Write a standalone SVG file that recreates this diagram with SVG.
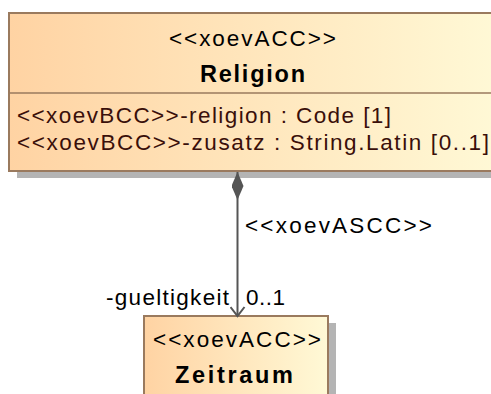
<svg xmlns="http://www.w3.org/2000/svg" width="491" height="394" viewBox="0 0 491 394">
  <defs>
    <linearGradient id="classFill" x1="0" y1="0" x2="1" y2="0">
      <stop offset="0" stop-color="#FFD3A3"/>
      <stop offset="1" stop-color="#FFF9D6"/>
    </linearGradient>
    <!-- filled diamond for the composite end -->
    <marker id="composite" viewBox="0 0 28 12" refX="0" refY="6" markerWidth="28" markerHeight="12" markerUnits="userSpaceOnUse" orient="auto">
      <path d="M0 6 L14 0 L28 6 L14 12 Z" fill="#555555"/>
    </marker>
    <!-- open navigable arrowhead -->
    <marker id="openArrow" viewBox="0 0 12 16" refX="10" refY="8" markerWidth="12" markerHeight="16" markerUnits="userSpaceOnUse" orient="auto">
      <path d="M1 1 L10 8 L1 15" fill="none" stroke="#555555" stroke-width="2"/>
    </marker>
  </defs>
  <style>
    .box { fill: url(#classFill); stroke: #9A7A5E; stroke-width: 2; }
    .shadow { fill: #B4B4B4; }
    .sep { stroke: #9A7A5E; stroke-width: 1.5; }
    .txt { font-family: "Liberation Sans", Arial, sans-serif; font-size: 22.5px; fill: #000000; }
    .attr { font-family: "Liberation Sans", Arial, sans-serif; font-size: 22.5px; fill: #3A0F0A; }
    .bold { font-weight: bold; font-size: 23.5px; }
    .edge { stroke: #555555; stroke-width: 2; fill: none; }
  </style>

  <g id="Religion">
    <rect class="shadow" x="17" y="171" width="480" height="7"/>
    <rect class="box" x="9" y="13" width="490" height="158"/>
    <line class="sep" x1="9" y1="93" x2="499" y2="93"/>
    <text class="txt" x="169" y="46" textLength="167" lengthAdjust="spacing">&lt;&lt;xoevACC&gt;&gt;</text>
    <text class="txt bold" x="200" y="82" textLength="105" lengthAdjust="spacing">Religion</text>
    <text class="attr" x="17" y="123" textLength="374" lengthAdjust="spacing">&lt;&lt;xoevBCC&gt;&gt;-religion : Code [1]</text>
    <text class="attr" x="17" y="150" textLength="472" lengthAdjust="spacing">&lt;&lt;xoevBCC&gt;&gt;-zusatz : String.Latin [0..1]</text>
  </g>

  <g id="Zeitraum">
    <rect class="shadow" x="329" y="323" width="7" height="80"/>
    <rect class="box" x="144" y="316" width="184" height="90"/>
    <text class="txt" x="153" y="347" textLength="168" lengthAdjust="spacing">&lt;&lt;xoevACC&gt;&gt;</text>
    <text class="txt bold" x="175" y="383" textLength="118" lengthAdjust="spacing">Zeitraum</text>
  </g>

  <g id="connectors">
    <line class="edge" x1="237.5" y1="172" x2="237.5" y2="316" marker-start="url(#composite)" marker-end="url(#openArrow)"/>
    <text class="txt" x="245" y="233" textLength="187" lengthAdjust="spacing">&lt;&lt;xoevASCC&gt;&gt;</text>
    <text class="txt" x="106" y="305" textLength="123" lengthAdjust="spacing">-gueltigkeit</text>
    <text class="txt" x="246" y="305" textLength="39" lengthAdjust="spacing">0..1</text>
  </g>
</svg>
